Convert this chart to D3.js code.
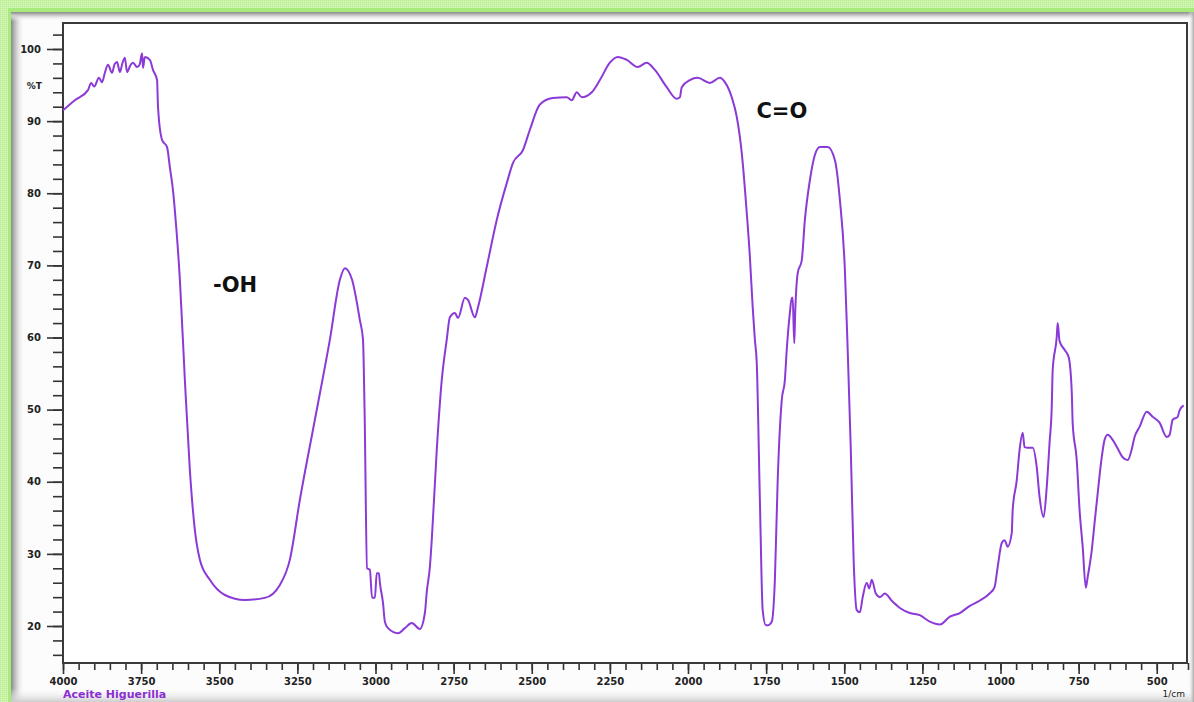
<!DOCTYPE html>
<html>
<head>
<meta charset="utf-8">
<script src="https://cdn.jsdelivr.net/npm/d3@7"></script>
<style>
  body { margin: 0; background: #c6f1a2; }
  svg { display: block; }
  .tick text { font-family: "DejaVu Sans", sans-serif; font-weight: bold; font-size: 10px; fill: #222; }
  .tick line { stroke: #333; stroke-width: 1.6; }
</style>
</head>
<body>
<svg id="chart" width="1194" height="702"></svg>
<script>
// IR spectrum (wavenumber in 1/cm, transmittance in %T)
const wavenumber = [
  4000, 3962, 3920, 3910, 3900, 3885, 3875, 3866, 3856, 3843, 3835, 3827, 3818, 3810, 3802, 3795,
  3785, 3776, 3763, 3755, 3747, 3744, 3738, 3722, 3712, 3699, 3696, 3683, 3667, 3658, 3648, 3642,
  3626, 3610, 3594, 3578, 3562, 3530, 3482, 3418, 3354, 3306, 3274, 3242, 3194, 3146, 3114, 3098,
  3075, 3050, 3040, 3035, 3027, 3018, 3011, 3002, 2996, 2989, 2986, 2976, 2970, 2960, 2928, 2906,
  2884, 2858, 2842, 2836, 2826, 2820, 2804, 2788, 2772, 2762, 2746, 2736, 2714, 2704, 2682, 2672,
  2644, 2612, 2580, 2560, 2528, 2506, 2474, 2433, 2388, 2372, 2356, 2340, 2308, 2282, 2250, 2225,
  2196, 2161, 2132, 2106, 2068, 2036, 2026, 2020, 1994, 1969, 1930, 1898, 1882, 1860, 1844, 1828,
  1812, 1802, 1793, 1786, 1780, 1770, 1761, 1751, 1745, 1732, 1722, 1713, 1700, 1690, 1684, 1674,
  1668, 1665, 1660, 1657, 1649, 1636, 1626, 1610, 1594, 1578, 1553, 1530, 1514, 1498, 1489, 1479,
  1470, 1460, 1450, 1441, 1428, 1420, 1412, 1399, 1386, 1370, 1348, 1322, 1290, 1258, 1226, 1194,
  1162, 1130, 1098, 1067, 1035, 1019, 1009, 996, 987, 977, 964, 961, 948, 939, 929, 923,
  913, 897, 884, 875, 862, 852, 843, 836, 833, 820, 817, 811, 795, 782, 772, 769,
  756, 747, 737, 727, 721, 708, 699, 689, 676, 667, 657, 641, 625, 609, 593, 580,
  571, 555, 532, 513, 491, 468, 459, 449, 433, 427, 414
];
const transmittance = [
  91.5, 92.9, 94.3, 95.3, 94.8, 96.0, 95.4, 96.7, 97.8, 96.7, 97.9, 98.2, 96.8, 98.0, 98.8, 96.8,
  97.7, 98.1, 97.5, 97.8, 99.4, 97.4, 98.9, 98.5, 97.1, 95.7, 92.0, 87.4, 86.4, 83.6, 80.4, 77.6,
  68.0, 54.1, 41.6, 33.3, 29.2, 26.4, 24.3, 23.6, 23.9, 25.7, 29.2, 37.5, 48.6, 59.7, 68.0, 69.6,
  68.0, 62.4, 59.7, 50.0, 28.0, 27.8, 23.9, 23.9, 27.3, 27.3, 26.0, 23.2, 20.6, 19.7, 19.0, 19.7,
  20.4, 19.6, 21.8, 24.7, 28.2, 31.9, 44.4, 54.1, 59.7, 62.8, 63.4, 62.7, 65.5, 65.2, 62.8, 64.2,
  69.8, 76.3, 81.4, 84.2, 86.0, 88.8, 92.3, 93.2, 93.3, 92.9, 94.0, 93.3, 94.0, 95.7, 98.1, 98.9,
  98.5, 97.5, 98.1, 97.1, 94.7, 93.1, 93.3, 94.7, 95.7, 96.0, 95.3, 96.0, 95.4, 93.3, 90.6, 85.6,
  77.3, 71.2, 64.2, 59.7, 56.5, 37.5, 22.2, 20.1, 20.1, 20.6, 26.4, 40.2, 51.3, 54.1, 58.3, 63.4,
  65.5, 65.5, 59.2, 63.4, 68.9, 70.7, 76.3, 81.8, 85.3, 86.4, 86.4, 84.6, 79.1, 69.4, 58.3, 44.4,
  29.2, 22.2, 21.9, 24.0, 26.0, 25.2, 26.4, 24.5, 24.0, 24.5, 23.5, 22.5, 21.8, 21.5, 20.6, 20.2,
  21.3, 21.8, 22.8, 23.5, 24.5, 25.4, 28.2, 31.5, 31.9, 31.0, 32.9, 36.1, 40.2, 44.4, 46.8, 44.8,
  44.7, 44.7, 42.0, 37.9, 35.1, 39.3, 45.4, 50.4, 55.5, 60.1, 62.0, 59.5, 58.3, 57.3, 52.5, 48.1,
  43.0, 36.1, 31.0, 25.3, 26.8, 30.5, 34.3, 38.4, 43.4, 45.8, 46.5, 45.8, 44.6, 43.4, 43.0, 44.5,
  46.2, 47.6, 49.7, 49.0, 48.2, 46.2, 46.5, 48.6, 49.0, 49.9, 50.6
];

const xMajorTicks = [4000, 3750, 3500, 3250, 3000, 2750, 2500, 2250, 2000, 1750, 1500, 1250, 1000, 750, 500];
const xTickLabels = ["4000", "3750", "3500", "3250", "3000", "2750", "2500", "2250", "2000", "1750", "1500", "1250", "1000", "750", "500"];
const yMajorTicks = [100, 90, 80, 70, 60, 50, 40, 30, 20];
const yTickLabels = ["100", "90", "80", "70", "60", "50", "40", "30", "20"];

const annotations = [
  { text: "-OH", wn: 3520, t: 66.3 },
  { text: "C=O", wn: 1781, t: 90.5 }
];

const data = wavenumber.map((w, i) => ({ wn: w, t: transmittance[i] }));

const svg = d3.select("#chart");
const W = 1194, H = 702;
const plotLeft = 63, plotRight = 1187, plotTop = 23, plotBottom = 663;

const x = d3.scaleLinear().domain([4000, 400]).range([63, 1188]);
const y = d3.scaleLinear().domain([100, 20]).range([49, 626]);

// ---- background window ----
const defs = svg.append("defs");
const pat = defs.append("pattern").attr("id", "chk").attr("width", 2).attr("height", 2)
  .attr("patternUnits", "userSpaceOnUse");
pat.append("rect").attr("width", 2).attr("height", 2).attr("fill", "#c9f3a6");
pat.append("rect").attr("width", 1).attr("height", 1).attr("fill", "#b9ec90");
pat.append("rect").attr("x", 1).attr("y", 1).attr("width", 1).attr("height", 1).attr("fill", "#d6f8bc");

function grad(id, x1, y1, x2, y2, stops) {
  const g = defs.append("linearGradient").attr("id", id)
    .attr("x1", x1).attr("y1", y1).attr("x2", x2).attr("y2", y2);
  stops.forEach(([o, c, op]) => g.append("stop").attr("offset", o).attr("stop-color", c).attr("stop-opacity", op));
}
grad("shL", 0, 0, 1, 0, [[0, "#8a8a8a", 1], [0.35, "#c8c8c8", 1], [1, "#ffffff", 0]]);
grad("shT", 0, 0, 0, 1, [[0, "#8a8a8a", 1], [0.4, "#cfcfcf", 1], [1, "#ffffff", 0]]);
grad("shB", 0, 0, 0, 1, [[0, "#ffffff", 0], [1, "#cdcdcd", 1]]);
grad("shR", 0, 0, 1, 0, [[0, "#ffffff", 0], [1, "#a8a8a8", 1]]);

svg.append("rect").attr("width", W).attr("height", H).attr("fill", "url(#chk)");
svg.append("rect").attr("x", 8).attr("y", 8).attr("width", W - 8).attr("height", 4).attr("fill", "#a9ea7c");
svg.append("rect").attr("x", 8).attr("y", 8).attr("width", 3).attr("height", H - 8).attr("fill", "#a9ea7c");
svg.append("rect").attr("x", 11).attr("y", 12).attr("width", W - 11).attr("height", H - 12).attr("fill", "#fcfcfc");
svg.append("rect").attr("x", 11).attr("y", 12).attr("width", 14).attr("height", H - 12).attr("fill", "url(#shL)");
svg.append("rect").attr("x", 11).attr("y", 12).attr("width", W - 11).attr("height", 9).attr("fill", "url(#shT)");
svg.append("rect").attr("x", 11).attr("y", 688).attr("width", W - 11).attr("height", 14).attr("fill", "url(#shB)");
svg.append("rect").attr("x", 1188).attr("y", 12).attr("width", 6).attr("height", H - 12).attr("fill", "url(#shR)");

// plot area
svg.append("rect").attr("x", plotLeft).attr("y", plotTop)
  .attr("width", plotRight - plotLeft).attr("height", plotBottom - plotTop)
  .attr("fill", "#ffffff");

// ---- axes ----
const xMinor = d3.range(4000, 399, -50);
svg.append("g").attr("transform", `translate(0,${plotBottom})`)
  .call(d3.axisBottom(x).tickValues(xMinor).tickSize(7).tickFormat(""))
  .call(g => g.select(".domain").remove());
svg.append("g").attr("transform", `translate(0,${plotBottom})`)
  .call(d3.axisBottom(x).tickValues(xMajorTicks).tickSize(11).tickPadding(3)
    .tickFormat((d, i) => xTickLabels[i]))
  .call(g => g.select(".domain").remove())
  .call(g => g.selectAll("text").attr("dy", "0.75em"));

const yMinor = d3.range(16, 103, 2);
svg.append("g").attr("transform", `translate(${plotLeft},0)`)
  .call(d3.axisLeft(y).tickValues(yMinor).tickSize(10).tickFormat(""))
  .call(g => g.select(".domain").remove());
svg.append("g").attr("transform", `translate(${plotLeft},0)`)
  .call(d3.axisLeft(y).tickValues(yMajorTicks).tickSize(16).tickPadding(6)
    .tickFormat((d, i) => yTickLabels[i]))
  .call(g => g.select(".domain").remove());

// frame
svg.append("rect").attr("x", plotLeft).attr("y", plotTop)
  .attr("width", plotRight - plotLeft).attr("height", plotBottom - plotTop)
  .attr("fill", "none").attr("stroke", "#3a3a3a").attr("stroke-width", 2);

// ---- spectrum ----
const line = d3.line().x(d => x(d.wn)).y(d => y(d.t)).curve(d3.curveMonotoneX);
svg.append("path").datum(data)
  .attr("d", line)
  .attr("fill", "none")
  .attr("stroke", "#8b3ad8")
  .attr("stroke-width", 2)
  .attr("stroke-linejoin", "round");

// ---- labels ----
svg.append("text").attr("x", 42).attr("y", 86).attr("text-anchor", "end").attr("dominant-baseline", "middle")
  .attr("font-family", "DejaVu Sans, sans-serif").attr("font-weight", "bold").attr("font-size", 9)
  .attr("fill", "#222").text("%T");

svg.selectAll(".annot").data(annotations).join("text")
  .attr("class", "annot")
  .attr("x", d => x(d.wn)).attr("y", d => y(d.t))
  .attr("font-family", "DejaVu Sans, sans-serif").attr("font-weight", "bold").attr("font-size", 21)
  .attr("fill", "#111").text(d => d.text);

svg.append("text").attr("x", 1185).attr("y", 697).attr("text-anchor", "end")
  .attr("font-family", "DejaVu Sans, sans-serif").attr("font-size", 9).attr("fill", "#222").text("1/cm");

svg.append("text").attr("x", 63).attr("y", 698)
  .attr("font-family", "DejaVu Sans, sans-serif").attr("font-weight", "bold").attr("font-size", 11)
  .attr("fill", "#8a2fd0").text("Aceite Higuerilla");
</script>
</body>
</html>
